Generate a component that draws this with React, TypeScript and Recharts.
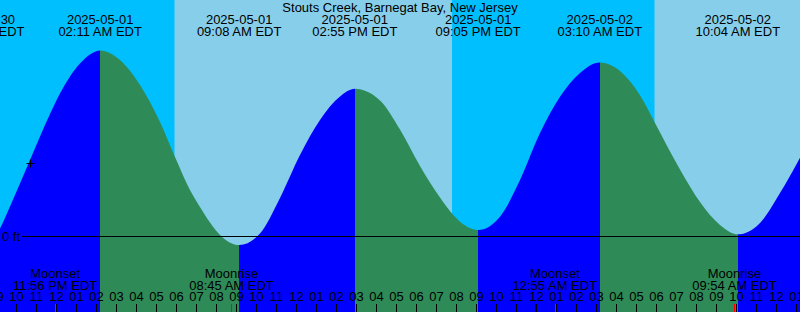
import React from 'react';
import { ComposedChart, Area, XAxis, YAxis, ReferenceArea, ReferenceLine, ReferenceDot } from 'recharts';

// ---------- data (times = hours since 2025-05-01 00:00 EDT, levels in ft) ----------
const TITLE = 'Stouts Creek, Barnegat Bay, New Jersey';
const TZ = 'EDT';
const ZERO_LABEL = '0 ft';

const curveHours = [
  -3.7333, -2.825, -2.325, -1.825, -1.325, -0.825, -0.325, 0.175, 0.675, 1.175, 1.675, 2.1833,
  3.175, 4.175, 5.175, 5.925, 6.675, 7.175, 7.675, 8.175, 9.1333,
  10.175, 11.175, 12.175, 13.175, 14.175, 14.9167,
  16.175, 17.175, 18.175, 19.175, 19.84, 20.51, 21.0833,
  22.175, 23.175, 24.175, 25.175, 26.175, 27.1667,
  28.175, 29.175, 29.925, 31.175, 32.175, 33.175, 34.0667,
  35.175, 36.175, 37.2,
];
const curveFeet = [
  -0.15, 0.094, 0.369, 0.656, 0.95, 1.244, 1.525, 1.781, 1.994, 2.156, 2.269, 2.32,
  2.2, 1.888, 1.425, 0.988, 0.575, 0.363, 0.169, 0.013, -0.113,
  0.031, 0.475, 1.013, 1.45, 1.744, 1.84,
  1.694, 1.331, 0.875, 0.481, 0.263, 0.119, 0.075,
  0.241, 0.7, 1.288, 1.741, 2.038, 2.169,
  2.063, 1.759, 1.413, 0.831, 0.425, 0.138, 0.021,
  0.163, 0.538, 0.991,
];

const tideDates = ['2025-04-30', '2025-05-01', '2025-05-01', '2025-05-01', '2025-05-01', '2025-05-02', '2025-05-02'];
const tideClock = ['08:16 PM', '02:11 AM', '09:08 AM', '02:55 PM', '09:05 PM', '03:10 AM', '10:04 AM'];
const tideKind = ['L', 'H', 'L', 'H', 'L', 'H', 'L'];

const moonKind = ['Moonset', 'Moonrise', 'Moonset', 'Moonrise'];
const moonDates = ['2025-04-30', '2025-05-01', '2025-05-02', '2025-05-02'];
const moonClock = ['11:56 PM', '08:45 AM', '12:55 AM', '09:54 AM'];

const sunDates = ['2025-04-30', '2025-05-01', '2025-05-01', '2025-05-02', '2025-05-02'];
const sunClock = ['07:46 PM', '05:54 AM', '07:47 PM', '05:54 AM', '07:48 PM'];
const sunKind = ['Sunset', 'Sunrise', 'Sunset', 'Sunrise', 'Sunset'];

const markHour = -1.325;
const markFeet = 0.91;

// hour tick marks, from 09 PM Apr 30 to 01 PM May 2
const hourTicks = Array.from({ length: 41 }, (_, i) => i - 3);

// ---------- layout / style ----------
const W = 800;
const H = 312;
const X_DOMAIN: [number, number] = [-2.825, 37.175];
const Y_DOMAIN: [number, number] = [-0.95, 2.95];
const NIGHT = '#00BFFF';
const DAY = '#87CEEB';
const RISING = '#0000FF';
const FALLING = '#2E8B57';
const FONT = '"Liberation Sans", Arial, Helvetica, sans-serif';
const FS = 13;

// ---------- helpers ----------
const dayIndex = (d: string) => {
  const [y, m, dd] = d.split('-').map(Number);
  return (Date.UTC(y, m - 1, dd) - Date.UTC(2025, 4, 1)) / 86400000;
};
const clockHours = (c: string) => {
  const [hm, ap] = c.split(' ');
  const [h, m] = hm.split(':').map(Number);
  return (h % 12) + (ap === 'PM' ? 12 : 0) + m / 60;
};
const toHours = (d: string, c: string) => dayIndex(d) * 24 + clockHours(c);

const curveData = curveHours.map((t, i) => ({ t, level: curveFeet[i] }));
const tideTimes = tideDates.map((d, i) => toHours(d, tideClock[i]));
const moonTimes = moonDates.map((d, i) => toHours(d, moonClock[i]));
const sunTimes = sunDates.map((d, i) => toHours(d, sunClock[i]));

const bands = sunTimes.slice(0, -1).map((s, i) => ({
  x1: s,
  x2: sunTimes[i + 1],
  fill: sunKind[i] === 'Sunrise' ? DAY : NIGHT,
}));

const t0 = curveHours[0];
const t1 = curveHours[curveHours.length - 1];
const off = (t: number) => Math.max(0, Math.min(1, (t - t0) / (t1 - t0)));
const gradStops: { offset: number; color: string }[] = [];
tideTimes.forEach((s, i) => {
  const e = i + 1 < tideTimes.length ? tideTimes[i + 1] : t1;
  const color = tideKind[i] === 'L' ? RISING : FALLING;
  gradStops.push({ offset: off(s), color });
  gradStops.push({ offset: off(e), color });
});

const hourLabel = (v: number) => {
  const h24 = ((v % 24) + 24) % 24;
  const h12 = h24 % 12 === 0 ? 12 : h24 % 12;
  return String(h12).padStart(2, '0');
};

const txt = { fontFamily: FONT, fontSize: FS, fill: '#000' } as const;

export default function App() {
  return (
    <div style={{ width: W, height: H, overflow: 'hidden', position: 'relative', background: NIGHT }}>
      <style>{'body{margin:0}'}</style>
      <ComposedChart width={W} height={H} data={curveData} margin={{ top: 0, right: 0, bottom: 0, left: 0 }}>
        <defs>
          <linearGradient id="tideFill" x1="0" y1="0" x2="1" y2="0">
            {gradStops.map((s, i) => (
              <stop key={i} offset={s.offset} stopColor={s.color} />
            ))}
          </linearGradient>
        </defs>
        <XAxis dataKey="t" type="number" domain={X_DOMAIN} allowDataOverflow hide />
        <YAxis type="number" domain={Y_DOMAIN} allowDataOverflow hide />
        {bands.map((b, i) => (
          <ReferenceArea
            key={`b${i}`}
            x1={b.x1}
            x2={b.x2}
            fill={b.fill}
            fillOpacity={1}
            stroke="none"
            ifOverflow="hidden"
            zIndex={-50}
          />
        ))}
        <Area
          dataKey="level"
          type="monotone"
          baseValue="dataMin"
          fill="url(#tideFill)"
          fillOpacity={1}
          stroke="none"
          isAnimationActive={false}
          dot={false}
          activeDot={false}
        />
        <ReferenceLine
          y={0}
          zIndex={1500}
          shape={(p: any) => {
            const xa = Math.min(p.x1, p.x2);
            const xb = Math.max(p.x1, p.x2);
            const yy = Math.floor(p.y1) + 0.5;
            return (
              <g>
                <line x1={xa + 22} x2={xb} y1={yy} y2={yy} stroke="#000" strokeWidth={1} />
                <text x={xa + 2} y={yy + 4.6} {...txt}>{ZERO_LABEL}</text>
              </g>
            );
          }}
        />
        {hourTicks.map((h) => (
          <ReferenceLine
            key={`h${h}`}
            x={h}
            ifOverflow="visible"
            zIndex={1400}
            shape={(p: any) => {
              const bottom = Math.max(p.y1, p.y2);
              const midnight = ((h % 24) + 24) % 24 === 0;
              const lx = midnight ? p.x1 - 0.5 : p.x1;
              return (
                <g>
                  <line x1={lx} x2={lx} y1={bottom - 8} y2={bottom} stroke="#000" strokeWidth={midnight ? 2 : 1} />
                  <text x={p.x1} y={bottom - 11} textAnchor="middle" {...txt}>{hourLabel(h)}</text>
                </g>
              );
            }}
          />
        ))}
        {tideTimes.map((t, i) => (
          <ReferenceLine
            key={`t${i}`}
            x={t}
            ifOverflow="visible"
            zIndex={1500}
            shape={(p: any) => {
              const top = Math.min(p.y1, p.y2);
              return (
                <g>
                  <text x={p.x1} y={top + 24} textAnchor="middle" {...txt}>{tideDates[i]}</text>
                  <text x={p.x1} y={top + 36} textAnchor="middle" {...txt}>{`${tideClock[i]} ${TZ}`}</text>
                </g>
              );
            }}
          />
        ))}
        {moonTimes.map((t, i) => (
          <ReferenceLine
            key={`m${i}`}
            x={t}
            ifOverflow="visible"
            zIndex={1500}
            shape={(p: any) => {
              const bottom = Math.max(p.y1, p.y2);
              const rx = Math.floor(p.x1 + 0.2) + 0.5;
              return (
                <g>
                  <text x={p.x1} y={bottom - 34} textAnchor="middle" {...txt}>{moonKind[i]}</text>
                  <text x={p.x1} y={bottom - 22} textAnchor="middle" {...txt}>{`${moonClock[i]} ${TZ}`}</text>
                  <line x1={rx} x2={rx} y1={bottom - 8} y2={bottom} stroke="#FF0000" strokeWidth={1} />
                </g>
              );
            }}
          />
        ))}
        <ReferenceDot
          x={markHour}
          y={markFeet}
          zIndex={1500}
          shape={(p: any) => {
            const cx = Math.floor(p.cx) + 0.5;
            const cy = Math.floor(p.cy) + 0.5;
            return (
              <g>
                <line x1={cx - 4} x2={cx + 4} y1={cy} y2={cy} stroke="#000" strokeWidth={1} />
                <line x1={cx} x2={cx} y1={cy - 4} y2={cy + 4} stroke="#000" strokeWidth={1} />
              </g>
            );
          }}
        />
      </ComposedChart>
      <svg width={W} height={H} style={{ position: 'absolute', left: 0, top: 0, pointerEvents: 'none' }}>
        <text x={W / 2} y={12} textAnchor="middle" {...txt}>{TITLE}</text>
      </svg>
    </div>
  );
}
